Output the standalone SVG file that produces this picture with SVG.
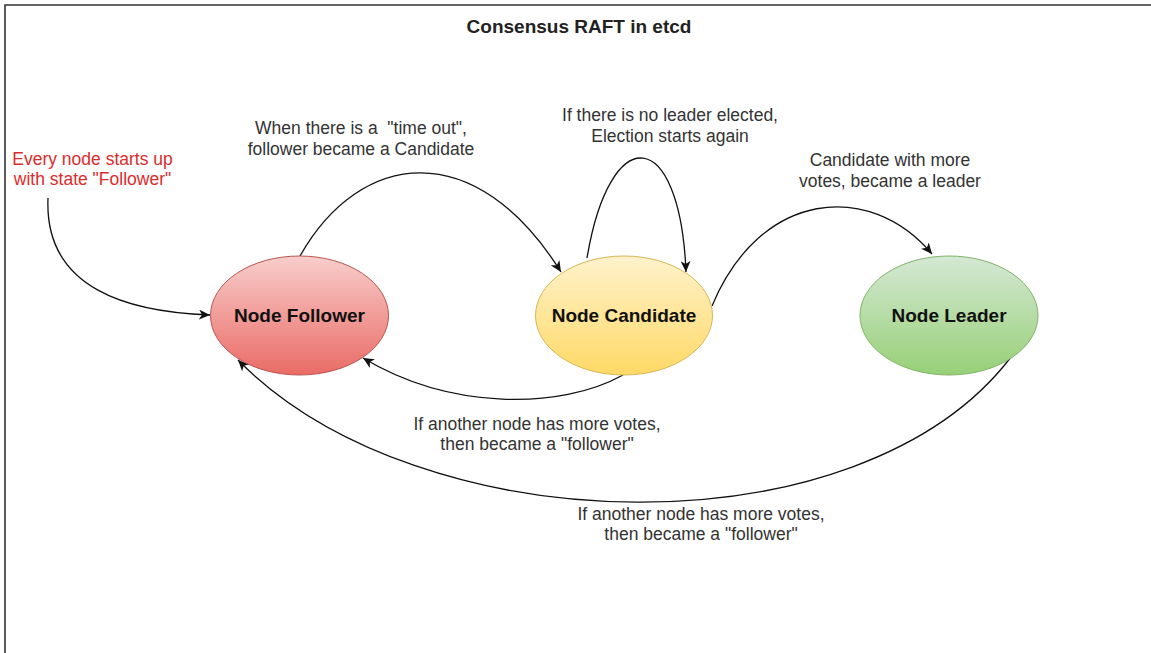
<svg xmlns="http://www.w3.org/2000/svg" width="1151" height="653" viewBox="0 0 1151 653">
  <style>
    .title { font-family: "Liberation Sans", Arial, sans-serif; font-size: 19px; font-weight: bold; fill: #222; text-anchor: middle; }
    .node-label { font-family: "Liberation Sans", Arial, sans-serif; font-size: 19px; font-weight: bold; fill: #111; text-anchor: middle; }
    .edge-label { font-family: "Liberation Sans", Arial, sans-serif; font-size: 17.5px; fill: #333; text-anchor: middle; }
    .note { font-family: "Liberation Sans", Arial, sans-serif; font-size: 17.5px; fill: #dd2c2c; text-anchor: middle; }
    .edge { fill: none; stroke: #111; stroke-width: 1.3; marker-end: url(#arrow); }
  </style>
  <defs>
    <linearGradient id="gradRed" x1="0" y1="0" x2="0" y2="1">
      <stop offset="0" stop-color="#f8cecc"/>
      <stop offset="1" stop-color="#ea6b66"/>
    </linearGradient>
    <linearGradient id="gradYellow" x1="0" y1="0" x2="0" y2="1">
      <stop offset="0" stop-color="#fff2cc"/>
      <stop offset="1" stop-color="#ffd966"/>
    </linearGradient>
    <linearGradient id="gradGreen" x1="0" y1="0" x2="0" y2="1">
      <stop offset="0" stop-color="#d5e8d4"/>
      <stop offset="1" stop-color="#97d077"/>
    </linearGradient>
    <marker id="arrow" markerUnits="userSpaceOnUse" markerWidth="12" markerHeight="10" viewBox="0 0 12 10" refX="11" refY="5" orient="auto">
      <path d="M0,0 L11,5 L0,10 L3,5 Z" fill="#111"/>
    </marker>
  </defs>

  <!-- page frame -->
  <rect x="0" y="0" width="1151" height="653" fill="#ffffff"/>
  <path d="M5,653 V5 H1151" fill="none" stroke="#333" stroke-width="1.6"/>

  <text class="title" x="579" y="33">Consensus RAFT in etcd</text>

  <!-- connectors -->
  <g id="connectors">
    <path class="edge" d="M48,198 C44,290 130,312 210,315"/>
    <path class="edge" d="M300,256 C360,150 475,135 561,272"/>
    <path class="edge" d="M587,258 C610,120 680,125 686,272"/>
    <path class="edge" d="M712,306 C760,190 870,180 932,254"/>
    <path class="edge" d="M623,375 C560,410 450,410 363,358"/>
    <path class="edge" d="M1011,357 C860,555 420,545 238,360"/>
  </g>

  <!-- nodes -->
  <g id="node-follower">
    <ellipse cx="299.5" cy="315.5" rx="89" ry="59.5" fill="url(#gradRed)" stroke="#b85450" stroke-width="1"/>
    <text class="node-label" x="299.5" y="322">Node Follower</text>
  </g>
  <g id="node-candidate">
    <ellipse cx="624" cy="315.5" rx="88.5" ry="59.5" fill="url(#gradYellow)" stroke="#d6b656" stroke-width="1"/>
    <text class="node-label" x="624" y="322">Node Candidate</text>
  </g>
  <g id="node-leader">
    <ellipse cx="949" cy="315.5" rx="89" ry="59.5" fill="url(#gradGreen)" stroke="#82b366" stroke-width="1"/>
    <text class="node-label" x="949" y="322">Node Leader</text>
  </g>

  <!-- labels -->
  <g id="label-start">
    <text class="note" x="92.5" y="165">Every node starts up</text>
    <text class="note" x="92.5" y="185">with state "Follower"</text>
  </g>
  <g id="label-timeout">
    <text class="edge-label" x="361" y="134" xml:space="preserve">When there is a  "time out",</text>
    <text class="edge-label" x="361" y="155">follower became a Candidate</text>
  </g>
  <g id="label-reelection">
    <text class="edge-label" x="670" y="121">If there is no leader elected,</text>
    <text class="edge-label" x="670" y="142">Election starts again</text>
  </g>
  <g id="label-leader">
    <text class="edge-label" x="890" y="166">Candidate with more</text>
    <text class="edge-label" x="890" y="187">votes, became a leader</text>
  </g>
  <g id="label-candidate-back">
    <text class="edge-label" x="537" y="430">If another node has more votes,</text>
    <text class="edge-label" x="537" y="450">then became a "follower"</text>
  </g>
  <g id="label-leader-back">
    <text class="edge-label" x="701" y="520">If another node has more votes,</text>
    <text class="edge-label" x="701" y="540">then became a "follower"</text>
  </g>
</svg>
